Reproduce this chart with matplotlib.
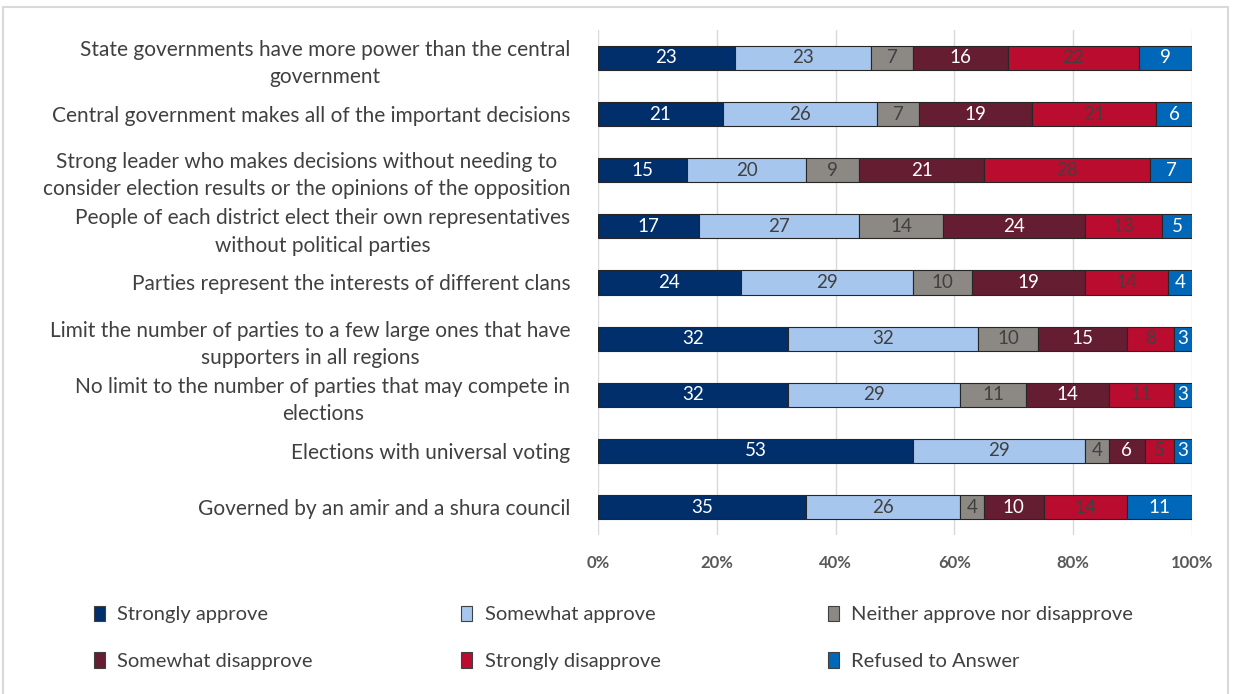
import numpy as np
import matplotlib
matplotlib.use('Agg')
import matplotlib.pyplot as plt
from matplotlib.patches import Patch, Rectangle

# 各类陈述（从上到下）
categories = [
    'State governments have more power than the central\ngovernment',
    'Central government makes all of the important decisions',
    'Strong leader who makes decisions without needing to\nconsider election results or the opinions of the opposition',
    'People of each district elect their own representatives\nwithout political parties',
    'Parties represent the interests of different clans',
    'Limit the number of parties to a few large ones that have\nsupporters in all regions',
    'No limit to the number of parties that may compete in\nelections',
    'Elections with universal voting',
    'Governed by an amir and a shura council',
]

series_names = ['Strongly approve', 'Somewhat approve', 'Neither approve nor disapprove',
                'Somewhat disapprove', 'Strongly disapprove', 'Refused to Answer']

strongly_approve = [23, 21, 15, 17, 24, 32, 32, 53, 35]
somewhat_approve = [23, 26, 20, 27, 29, 32, 29, 29, 26]
neither = [7, 7, 9, 14, 10, 10, 11, 4, 4]
somewhat_disapprove = [16, 19, 21, 24, 19, 15, 14, 6, 10]
strongly_disapprove = [22, 21, 28, 13, 14, 8, 11, 5, 14]
refused = [9, 6, 7, 5, 4, 3, 3, 3, 11]

x_ticks = [0, 20, 40, 60, 80, 100]

colors = ['#002F6C', '#A7C6ED', '#8C8985', '#651D32', '#BA0C2F', '#0067B9']
label_colors = ['white', '#404040', '#404040', 'white', '#404040', 'white']

plt.rcParams['font.family'] = ['Lato', 'DejaVu Sans']

fig = plt.figure(figsize=(12.33, 6.94), dpi=100)
ax = fig.add_axes([0.485, 0.229, 0.4818, 0.728])

data = [strongly_approve, somewhat_approve, neither, somewhat_disapprove, strongly_disapprove, refused]
y = np.arange(len(categories))
left = np.zeros(len(categories))
for vals, name, c, lc in zip(data, series_names, colors, label_colors):
    vals = np.array(vals, dtype=float)
    bars = ax.barh(y, vals, left=left, height=0.43, color=c, edgecolor='#262626',
                   linewidth=0.8, label=name, zorder=3)
    for b, v in zip(bars, vals):
        ax.text(b.get_x() + b.get_width() / 2, b.get_y() + b.get_height() / 2, f'{int(v)}',
                ha='center', va='center', color=lc, fontsize=13.5, zorder=4)
    left += vals

ax.set_xlim(0, 100)
ax.set_ylim(len(categories) - 0.5, -0.5)
ax.set_xticks(x_ticks)
ax.set_xticklabels([f'{t}%' for t in x_ticks], fontweight='bold', color='#595959', fontsize=12)
ax.set_yticks(y)
ax.set_yticklabels(categories, fontsize=15, color='#404040')
for lab in ax.get_yticklabels():
    lab.set_multialignment('center')
    lab.set_linespacing(1.45)
ax.tick_params(axis='y', length=0, pad=20)
ax.tick_params(axis='x', length=0, pad=14)
ax.grid(axis='x', color='#D9D9D9', linewidth=1, zorder=0)
for s in ax.spines.values():
    s.set_visible(False)

# 图例：三列，每列两个
handles = [Patch(facecolor=c, edgecolor='#404040', linewidth=0.8) for c in colors]
xs = [0.068, 0.366, 0.663]
for i, x0 in enumerate(xs):
    idx = [i, i + 3]
    leg = fig.legend([handles[j] for j in idx], [series_names[j] for j in idx],
                     loc='upper left', bbox_to_anchor=(x0, 0.142), frameon=False,
                     fontsize=14.5, handlelength=0.55, handleheight=0.8, handletextpad=0.6,
                     labelspacing=1.45, borderpad=0)
    for t in leg.get_texts():
        t.set_color('#404040')

# 外框
fig.add_artist(Rectangle((3 / 1233, -0.05), 1225 / 1233, 1.05 - 7 / 694, transform=fig.transFigure,
                         fill=False, edgecolor='#D9D9D9', linewidth=1.5))

fig.savefig('out.png', dpi=100)
